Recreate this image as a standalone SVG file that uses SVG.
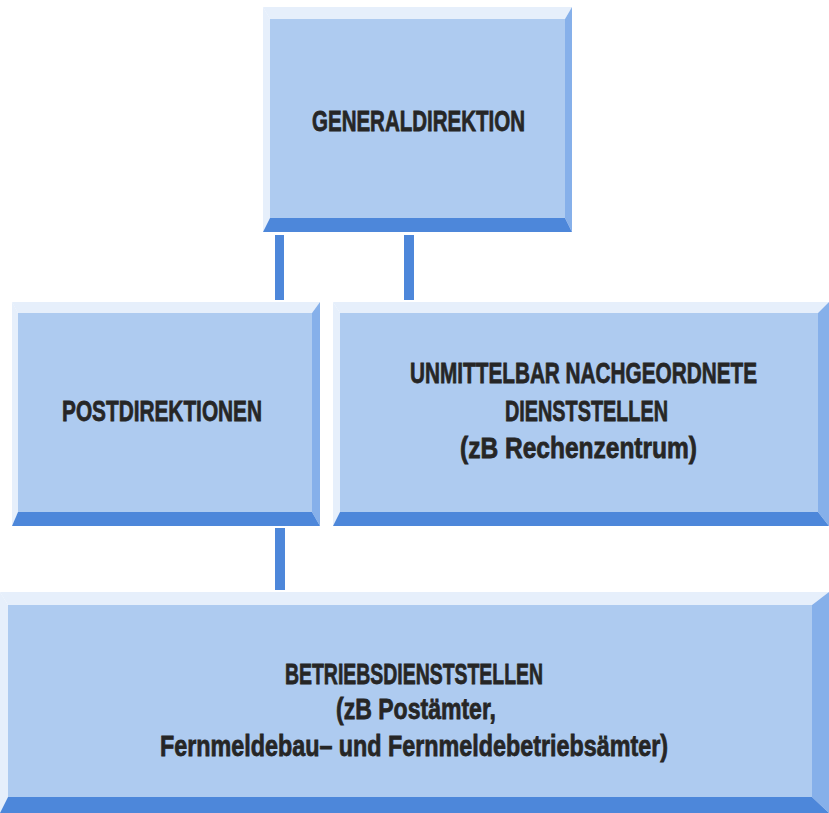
<svg xmlns="http://www.w3.org/2000/svg" width="829" height="813" viewBox="0 0 829 813">
<style>
.face{fill:#aecbf0}
.lite{fill:#e6effb}
.mid{fill:#86b0ea}
.dark{fill:#4d87da}
.conn{fill:#4d87da}
text{font-family:"Liberation Sans",Arial,sans-serif;font-weight:700;font-size:23px;fill:#262626;stroke:#262626;stroke-width:0.6;text-anchor:middle}
</style>
<rect width="829" height="813" fill="#ffffff"/>
<g id="connectors">
<rect class="conn" x="275" y="235" width="9" height="65"/>
<rect class="conn" x="404" y="235" width="10" height="65"/>
<rect class="conn" x="275" y="528" width="10" height="62"/>
</g>
<g id="generaldirektion">
<rect class="face" x="270" y="19" width="295" height="199"/>
<polygon class="lite" points="263,7 572,7 565,19 270,19"/>
<polygon class="lite" points="263,7 270,19 270,218 263,232"/>
<polygon class="mid" points="572,7 572,232 565,218 565,19"/>
<polygon class="dark" points="263,232 572,232 565,218 270,218"/>
<text transform="translate(418.5,131) scale(1,1.26)" textLength="213" lengthAdjust="spacingAndGlyphs">GENERALDIREKTION</text>
</g>
<g id="postdirektionen">
<rect class="face" x="18" y="313" width="294" height="199"/>
<polygon class="lite" points="12,302 320,302 312,313 18,313"/>
<polygon class="lite" points="12,302 18,313 18,512 12,526"/>
<polygon class="mid" points="320,302 320,526 312,512 312,313"/>
<polygon class="dark" points="12,526 320,526 312,512 18,512"/>
<text transform="translate(162,421) scale(1,1.26)" textLength="200" lengthAdjust="spacingAndGlyphs">POSTDIREKTIONEN</text>
</g>
<g id="nachgeordnete">
<rect class="face" x="340" y="313" width="478" height="199"/>
<polygon class="lite" points="333,302 829,302 818,313 340,313"/>
<polygon class="lite" points="333,302 340,313 340,512 333,526"/>
<polygon class="mid" points="829,302 829,526 818,512 818,313"/>
<polygon class="dark" points="333,526 829,526 818,512 340,512"/>
<text transform="translate(583.5,383) scale(1,1.26)" textLength="347" lengthAdjust="spacingAndGlyphs">UNMITTELBAR NACHGEORDNETE</text>
<text transform="translate(586.5,421) scale(1,1.26)" textLength="163" lengthAdjust="spacingAndGlyphs">DIENSTSTELLEN</text>
<text transform="translate(578.5,458) scale(1,1.26)" textLength="237" lengthAdjust="spacingAndGlyphs">(zB Rechenzentrum)</text>
</g>
<g id="betriebsdienststellen">
<rect class="face" x="8" y="605" width="804" height="192"/>
<polygon class="lite" points="0,592 829,592 812,605 8,605"/>
<polygon class="lite" points="0,592 8,605 8,797 0,813"/>
<polygon class="mid" points="829,592 829,813 812,797 812,605"/>
<polygon class="dark" points="0,813 829,813 812,797 8,797"/>
<text transform="translate(414,684) scale(1,1.26)" textLength="258" lengthAdjust="spacingAndGlyphs">BETRIEBSDIENSTSTELLEN</text>
<text transform="translate(416,719) scale(1,1.26)" textLength="160" lengthAdjust="spacingAndGlyphs">(zB Postämter,</text>
<text transform="translate(414,756) scale(1,1.26)" textLength="508" lengthAdjust="spacingAndGlyphs">Fernmeldebau– und Fernmeldebetriebsämter)</text>
</g>
</svg>
